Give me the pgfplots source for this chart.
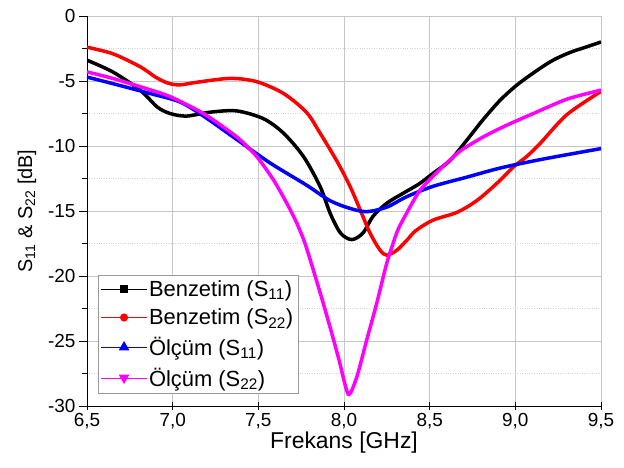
\documentclass[border=0pt]{standalone}
\usepackage{fontspec}
\setmainfont{Liberation Sans}
\usepackage{pgfplots}
\pgfplotsset{compat=1.18}

\definecolor{mag}{RGB}{255,0,255}

\begin{document}
\begin{tikzpicture}
\begin{axis}[
    name=ax,
    scale only axis,
    width=514bp, height=390bp,
    xmin=6.5, xmax=9.5, ymin=-30, ymax=0,
    axis x line*=bottom, axis y line*=left,
    axis line style={-, black, line width=1pt},
    xtick={6.5,7,7.5,8,8.5,9,9.5},
    ytick={-30,-25,-20,-15,-10,-5,0},
    minor ytick={-27.5,-22.5,-17.5,-12.5,-7.5,-2.5},
    xticklabel style={/pgf/number format/.cd, fixed, fixed zerofill, precision=1, use comma},
    /pgf/number format/assume math mode=true,
    grid=both,
    major grid style={gray!45, line width=0.6pt},
    minor grid style={gray!35, dotted, line width=0.6pt},
    x tick style={black, line width=0.8pt},
    xtick align=center,
    y tick style={black, line width=0.8pt},
    ytick align=outside,
    major tick length=8bp, minor tick length=5bp,
    tick label style={font=\fontsize{19}{22}\selectfont},
    xlabel={Frekans [GHz]},
    ylabel={S\textsubscript{11} \& S\textsubscript{22} [dB]},
    xlabel style={font=\fontsize{23}{26}\selectfont, yshift=4bp},
    ylabel style={font=\fontsize{20}{23}\selectfont},
    ylabel shift=5bp,
    legend style={at={(0.021,0.033)}, anchor=south west, draw=gray!80, line width=0.6pt,
        font=\fontsize{22}{26}\selectfont, row sep=7bp, inner sep=3bp,
        /tikz/every even column/.append style={column sep=6bp}},
    legend cell align=left,
    every axis plot/.append style={line width=3.5bp},
]
\addplot[black, smooth, tension=0.5,
    legend image code/.code={\draw[black, line width=0.6pt] (0,0) -- (1.6cm,0); \fill[black] (0.8cm,0) +(-2pt,-2pt) rectangle +(2pt,2pt);}]
coordinates {
(6.50,-3.4) (6.65,-4.3) (6.81,-5.7) (6.91,-7.0) (6.985,-7.5) (7.08,-7.7)
(7.218,-7.4) (7.374,-7.3) (7.53,-7.9) (7.646,-9.0) (7.763,-10.8) (7.86,-13.1)
(7.92,-15.2) (7.98,-16.7) (8.045,-17.2) (8.11,-16.7) (8.17,-15.4) (8.25,-14.4)
(8.35,-13.6) (8.44,-12.9) (8.52,-12.1) (8.62,-11.1) (8.72,-9.5) (8.81,-8.0)
(8.91,-6.5) (9.01,-5.3) (9.125,-4.2) (9.22,-3.4) (9.32,-2.8) (9.41,-2.4)
(9.50,-2.0)
};
\addlegendentry{Benzetim (S\textsubscript{11})}
\addplot[red, smooth, tension=0.5,
    legend image code/.code={\draw[red, line width=0.6pt] (0,0) -- (1.6cm,0); \fill[red] (0.8cm,0) circle (2.2pt);}]
coordinates {
(6.50,-2.4) (6.65,-2.9) (6.81,-3.9) (6.90,-4.7) (6.97,-5.15) (7.04,-5.3)
(7.14,-5.1) (7.335,-4.8) (7.49,-5.05) (7.646,-5.95) (7.78,-7.4) (7.86,-9.0)
(7.96,-11.2) (8.035,-13.1) (8.094,-14.9) (8.152,-16.7) (8.21,-18.0) (8.25,-18.4)
(8.31,-18.0) (8.37,-17.2) (8.42,-16.5) (8.52,-15.7) (8.66,-15.1) (8.775,-14.2)
(8.89,-12.9) (8.99,-11.6) (9.067,-10.8) (9.145,-9.8) (9.30,-7.6) (9.50,-5.8)
};
\addlegendentry{Benzetim (S\textsubscript{22})}
\addplot[blue, smooth, tension=0.5,
    legend image code/.code={\draw[blue, line width=0.6pt] (0,0) -- (1.6cm,0); \fill[blue] (0.8cm,2.6pt) -- (0.8cm-2.4pt,-1.6pt) -- (0.8cm+2.4pt,-1.6pt) -- cycle;}]
coordinates {
(6.50,-4.7) (6.65,-5.2) (6.85,-5.9) (7.04,-6.6) (7.18,-7.7) (7.374,-9.5)
(7.568,-11.3) (7.78,-13.0) (7.918,-14.2) (8.035,-14.8) (8.133,-15.05)
(8.25,-14.7) (8.366,-13.9) (8.52,-13.1) (8.716,-12.4) (8.91,-11.7) (9.125,-11.1)
(9.33,-10.6) (9.50,-10.2)
};
\addlegendentry{Ölçüm (S\textsubscript{11})}
\addplot[mag, smooth, tension=0.4,
    legend image code/.code={\draw[mag, line width=0.6pt] (0,0) -- (1.6cm,0); \fill[mag] (0.8cm,-2.6pt) -- (0.8cm-2.4pt,1.6pt) -- (0.8cm+2.4pt,1.6pt) -- cycle;}]
coordinates {
(6.50,-4.3) (6.65,-4.8) (6.85,-5.6) (6.985,-6.2) (7.18,-7.5) (7.374,-9.3)
(7.49,-10.8) (7.588,-12.6) (7.666,-14.4) (7.72,-15.8) (7.77,-17.4) (7.82,-19.5)
(7.87,-21.7) (7.92,-24.0) (7.97,-26.4) (8.025,-29.1) (8.074,-27.8) (8.133,-24.9)
(8.191,-22.1) (8.25,-19.0) (8.31,-16.6) (8.36,-15.3) (8.444,-13.4) (8.56,-11.8)
(8.677,-10.4) (8.813,-9.3) (8.95,-8.4) (9.105,-7.5) (9.30,-6.4) (9.50,-5.7)
};
\addlegendentry{Ölçüm (S\textsubscript{22})}
\end{axis}
\pgfresetboundingbox
\path (ax.south west) ++(-87bp,-62bp) rectangle ++(624bp,468bp);
\end{tikzpicture}
\end{document}
